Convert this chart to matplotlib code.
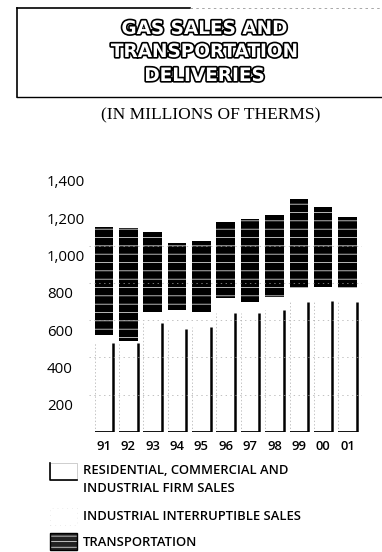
import matplotlib
matplotlib.use('Agg')
import matplotlib.pyplot as plt
import matplotlib.patheffects as pe
import matplotlib.transforms as mtransforms
from matplotlib.patches import Rectangle
from matplotlib.lines import Line2D
import numpy as np

# gas deliveries, millions of therms
years = ['91', '92', '93', '94', '95', '96', '97', '98', '99', '00', '01']
firm = [480, 477, 584, 552, 565, 638, 638, 654, 699, 704, 699]
interruptible = [40, 10, 61, 102, 80, 80, 61, 71, 73, 73, 73]
transport = [581, 605, 426, 361, 381, 406, 441, 439, 476, 428, 379]

y_ticks = [200, 400, 600, 800, 1000, 1200, 1400]
y_labels = ['200', '400', '600', '800', '1,000', '1,200', '1,400']
grid_levels = [200, 400, 600, 800, 1000]

title_lines = ['GAS SALES AND', 'TRANSPORTATION', 'DELIVERIES']
legend_items = [['RESIDENTIAL, COMMERCIAL AND', 'INDUSTRIAL FIRM SALES'],
                ['INDUSTRIAL INTERRUPTIBLE SALES'],
                ['TRANSPORTATION']]

W, H = 382, 552
fig = plt.figure(figsize=(W / 100, H / 100), dpi=100)
plt.rcParams['hatch.linewidth'] = 0.5


def fx(px):
    return px / W


def fy(py):
    return 1 - py / H


ax = fig.add_axes([fx(89.4), fy(432), (362.1 - 89.4) / W, (432 - 171) / H])

x = np.arange(len(years))
bw = 0.76
firm = np.array(firm)
interruptible = np.array(interruptible)
transport = np.array(transport)

ax.bar(x, firm, bw, color='white', lw=0, zorder=2)
ax.bar(x, interruptible, bw, bottom=firm, color='white', lw=0, zorder=2)
ax.bar(x, transport, bw, bottom=firm + interruptible, color='black',
       edgecolor='white', hatch='--', lw=0, zorder=2)

# firm sales segment: heavy right edge, light left edge, base line
ax.vlines(x + bw / 2, 0, firm, color='black', lw=1.8, zorder=3)
ax.vlines(x - bw / 2, 0, firm, color='#aaaaaa', lw=0.5, ls=(0, (2, 3)), zorder=3)
ax.hlines(np.zeros(len(x)), x - bw / 2, x + bw / 2, color='black', lw=1.3, zorder=3)

for g in grid_levels:
    ax.axhline(g, color='#a8a8a8', lw=0.5, ls=(0, (2, 5)), zorder=4)

ax.set_xlim(-0.6, 10.6)
ax.set_ylim(0, 1400)
for s in ax.spines.values():
    s.set_visible(False)
ax.set_yticks([])
ax.set_xticks(x, years)
ax.tick_params(axis='x', length=0, pad=6)
for lab in ax.get_xticklabels():
    lab.set_fontfamily('Open Sans')
    lab.set_fontweight('semibold')
    lab.set_fontsize(9.4)

# y labels sit a little below their level, left aligned
ytrans = mtransforms.blended_transform_factory(fig.transFigure, ax.transData) + \
    mtransforms.ScaledTranslation(0, -0.12, fig.dpi_scale_trans)
for v, s in zip(y_ticks, y_labels):
    ax.text(fx(47), v, s, transform=ytrans, ha='left', va='center',
            fontsize=10.8, family='Open Sans', color='black')

# outlined title inside an open box
for i, line in enumerate(title_lines):
    fig.text(fx(205), fy([29, 52, 76][i]), line, ha='center', va='center',
             fontsize=13.3, fontweight='bold', family='DejaVu Sans', color='white',
             path_effects=[pe.Stroke(linewidth=2.4, foreground='black'), pe.Normal()])

fig.add_artist(Line2D([fx(17), fx(17)], [fy(8), fy(97)], color='black', lw=1.2))
fig.add_artist(Line2D([fx(17), fx(190)], [fy(8), fy(8)], color='black', lw=1.2))
fig.add_artist(Line2D([fx(190), fx(382)], [fy(8), fy(8)], color='#999999', lw=0.6,
                      ls=(0, (3, 4))))
fig.add_artist(Line2D([fx(17), fx(382)], [fy(97), fy(97)], color='black', lw=1.0))

fig.text(fx(211), fy(115), '(IN MILLIONS OF THERMS)', ha='center', va='center',
         fontsize=12.5, family='Liberation Serif', color='black')

# legend swatches
fig.add_artist(Rectangle((fx(50), fy(480)), 27 / W, 17 / H, transform=fig.transFigure,
                         facecolor='white', edgecolor='#bbbbbb', lw=0.5))
fig.add_artist(Line2D([fx(50), fx(50), fx(77)], [fy(463), fy(480), fy(480)],
                      color='black', lw=1.2))
fig.add_artist(Rectangle((fx(50), fy(525)), 27 / W, 17 / H, transform=fig.transFigure,
                         facecolor='white', edgecolor='#dddddd', lw=0.5, ls=(0, (1, 6))))
fig.add_artist(Rectangle((fx(50), fy(550)), 27 / W, 17 / H, transform=fig.transFigure,
                         facecolor='#222222', edgecolor='white', hatch='---', lw=0))
fig.add_artist(Rectangle((fx(50), fy(550)), 27 / W, 17 / H, transform=fig.transFigure,
                         facecolor='none', edgecolor='black', lw=1.0))

legend_y = [[470, 488], [517], [542]]
for texts, ys in zip(legend_items, legend_y):
    for t, yy in zip(texts, ys):
        fig.text(fx(83), fy(yy), t, ha='left', va='center', fontsize=9.4,
                 family='Open Sans', fontweight='semibold', color='black')

fig.savefig('out.png', dpi=100, facecolor='white')
